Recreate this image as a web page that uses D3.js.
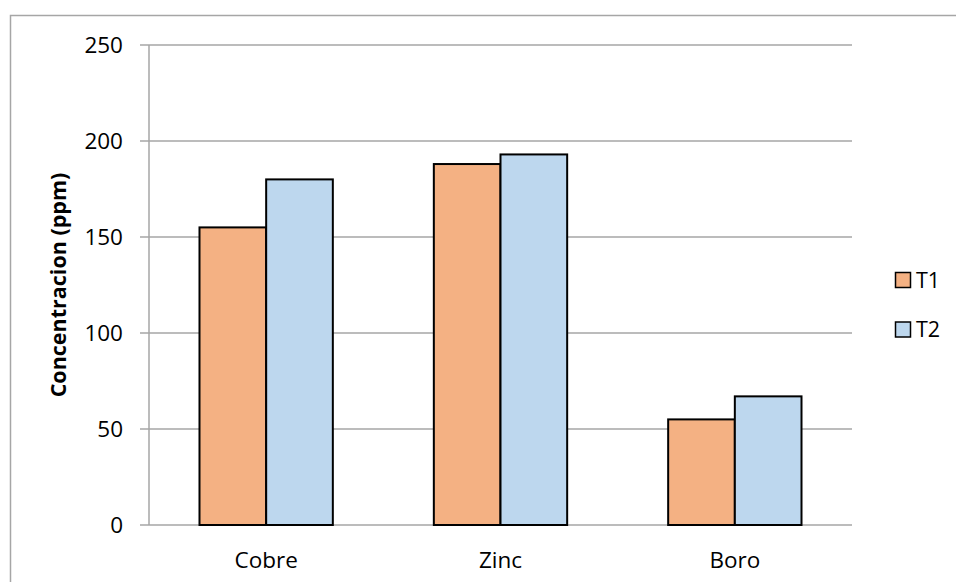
<!DOCTYPE html>
<html>
<head>
<meta charset="utf-8">
<script src="https://cdn.jsdelivr.net/npm/d3@7"></script>
<style>
  html, body { margin: 0; padding: 0; background: #fff; }
  svg { display: block; font-family: "Open Sans", "Noto Sans", sans-serif; }
</style>
</head>
<body>
<svg id="chart" width="956" height="582"></svg>
<script>
// Micronutrient concentration by treatment
const categories = ["Cobre", "Zinc", "Boro"];
const seriesNames = ["T1", "T2"];
const t1Values = [155, 188, 55];
const t2Values = [180, 193, 67];
const yTicks = [0, 50, 100, 150, 200, 250];
const colors = ["#F4B183", "#BDD7EE"];
const yTitle = "Concentracion (ppm)";

const seriesValues = [t1Values, t2Values];
const svg = d3.select("#chart");

// outer chart frame
svg.append("rect")
  .attr("x", 10.5).attr("y", 15.5)
  .attr("width", 960).attr("height", 600)
  .attr("fill", "#fff").attr("stroke", "#a6a6a6").attr("stroke-width", 1.5);

const plot = { left: 149, right: 852, top: 45, bottom: 525 };

const y = d3.scaleLinear().domain([0, 250]).range([plot.bottom, plot.top]);
const x0 = d3.scaleBand().domain(categories).range([plot.left, plot.right])
  .paddingInner(0.431).paddingOuter(0.2155);
const x1 = d3.scaleBand().domain(seriesNames).range([0, x0.bandwidth()]);

// horizontal gridlines
svg.append("g")
  .selectAll("line")
  .data(yTicks)
  .join("line")
  .attr("x1", plot.left - 9).attr("x2", plot.right)
  .attr("y1", d => y(d)).attr("y2", d => y(d))
  .attr("stroke", "#a6a6a6").attr("stroke-width", 1.5);

// y axis line
svg.append("line")
  .attr("x1", plot.left).attr("x2", plot.left)
  .attr("y1", plot.top).attr("y2", plot.bottom)
  .attr("stroke", "#a6a6a6").attr("stroke-width", 1.5);

// y tick labels
const yAxis = d3.axisLeft(y).tickValues(yTicks).tickSize(0).tickPadding(26);
const yg = svg.append("g").attr("transform", `translate(${plot.left},0)`).call(yAxis);
yg.select(".domain").remove();
yg.selectAll("text")
  .attr("font-size", 22.5)
  .attr("font-family", "'Open Sans', sans-serif")
  .attr("fill", "#000");

// bars
const groups = svg.append("g")
  .selectAll("g")
  .data(categories)
  .join("g")
  .attr("transform", d => `translate(${x0(d)},0)`);

groups.selectAll("rect")
  .data((d, i) => seriesNames.map((s, j) => ({ s, v: seriesValues[j][i], c: colors[j] })))
  .join("rect")
  .attr("x", d => x1(d.s))
  .attr("y", d => y(d.v))
  .attr("width", x1.bandwidth())
  .attr("height", d => y(0) - y(d.v))
  .attr("fill", d => d.c)
  .attr("stroke", "#000")
  .attr("stroke-width", 2);

// x category labels
const xAxis = d3.axisBottom(x0).tickSize(0).tickPadding(27);
const xg = svg.append("g").attr("transform", `translate(0,${plot.bottom})`).call(xAxis);
xg.select(".domain").remove();
xg.selectAll("text")
  .attr("font-size", 22.5)
  .attr("font-family", "'Open Sans', sans-serif")
  .attr("fill", "#000");

// y axis title
svg.append("text")
  .attr("transform", `translate(66,${(plot.top + plot.bottom) / 2}) rotate(-90)`)
  .attr("text-anchor", "middle")
  .attr("font-size", 21.5)
  .attr("font-weight", "bold")
  .attr("fill", "#000")
  .text(yTitle);

// legend
const legend = svg.append("g")
  .selectAll("g")
  .data(seriesNames)
  .join("g")
  .attr("transform", (d, i) => `translate(895,${280 + i * 49.5})`);

legend.append("rect")
  .attr("x", 0.5).attr("y", -7.5)
  .attr("width", 15).attr("height", 15)
  .attr("fill", (d, i) => colors[i])
  .attr("stroke", "#000").attr("stroke-width", 1.5);

legend.append("text")
  .attr("x", 21).attr("y", 0)
  .attr("dy", "0.35em")
  .attr("font-size", 21.5)
  .attr("fill", "#000")
  .text(d => d);
</script>
</body>
</html>
